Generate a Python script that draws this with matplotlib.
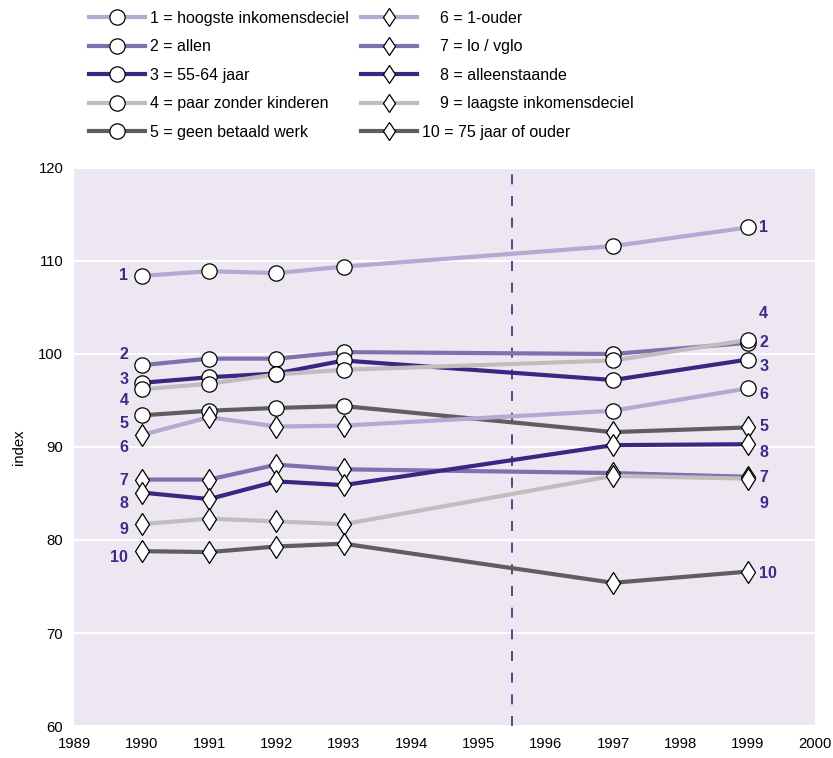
import matplotlib.pyplot as plt
from matplotlib.lines import Line2D

plt.rcParams['font.family'] = ['Liberation Sans', 'DejaVu Sans']

years = [1990, 1991, 1992, 1993, 1997, 1999]

names = ['1 = hoogste inkomensdeciel', '2 = allen', '3 = 55-64 jaar',
         '4 = paar zonder kinderen', '5 = geen betaald werk',
         '    6 = 1-ouder', '    7 = lo / vglo', '    8 = alleenstaande',
         '    9 = laagste inkomensdeciel', '10 = 75 jaar of ouder']

s1 = [108.4, 108.9, 108.7, 109.4, 111.6, 113.6]
s2 = [98.8, 99.5, 99.5, 100.2, 100.0, 101.2]
s3 = [96.9, 97.5, 97.9, 99.3, 97.2, 99.4]
s4 = [96.2, 96.8, 97.8, 98.3, 99.3, 101.5]
s5 = [93.4, 93.9, 94.2, 94.4, 91.6, 92.1]
s6 = [91.3, 93.2, 92.2, 92.3, 93.9, 96.3]
s7 = [86.5, 86.5, 88.1, 87.6, 87.2, 86.8]
s8 = [85.1, 84.4, 86.3, 85.9, 90.2, 90.3]
s9 = [81.7, 82.3, 82.0, 81.7, 86.9, 86.6]
s10 = [78.8, 78.7, 79.3, 79.6, 75.4, 76.6]
series = [s1, s2, s3, s4, s5, s6, s7, s8, s9, s10]

# marker shape per point (the chart swaps 5 and 6 after 1995)
shapes = [['o'] * 6, ['o'] * 6, ['o'] * 6, ['o'] * 6,
          ['o', 'o', 'o', 'o', 'd', 'd'],
          ['d', 'd', 'd', 'd', 'o', 'o'],
          ['d'] * 6, ['d'] * 6, ['d'] * 6, ['d'] * 6]

tags = ['1', '2', '3', '4', '5', '6', '7', '8', '9', '10']
left_tag_y = [108.4, 99.9, 97.3, 95.0, 92.5, 89.9, 86.4, 83.9, 81.1, 78.1]
right_tag_y = [113.6, 101.2, 98.7, 104.3, 92.2, 95.6, 86.7, 89.4, 83.9, 76.4]

colors = ['#b4a9d2', '#8070b0', '#3b2683', '#bebebe', '#5e5e5e',
          '#b4a9d2', '#8070b0', '#3b2683', '#bebebe', '#5e5e5e']
tag_color = '#3d2b87'

fig = plt.figure(figsize=(8.33, 7.58), dpi=100)
ax = fig.add_axes([0.0894, 0.0422, 0.889, 0.7362])
ax.set_facecolor('#ece7f1')
for sp in ax.spines.values():
    sp.set_visible(False)

ax.set_xlim(1989, 2000)
ax.set_ylim(60, 120)
ax.set_xticks(range(1989, 2001))
ax.set_yticks(range(60, 121, 10))
ax.tick_params(length=0, labelsize=10.7, pad=8)
ax.grid(axis='y', color='white', lw=1.5)
ax.set_axisbelow(True)
ax.set_ylabel('index', fontsize=10.7, labelpad=9)

ax.axvline(1995.5, color='#3b2683', lw=1.2, ls=(0, (6, 7)), zorder=1)

for i, vals in enumerate(series):
    ax.plot(years, vals, color=colors[i], lw=3, zorder=2 + i * 0.1,
            solid_capstyle='butt')
    for m in ['o', 'd']:
        xs = [x for x, s in zip(years, shapes[i]) if s == m]
        ys = [y for y, s in zip(vals, shapes[i]) if s == m]
        if xs:
            ax.plot(xs, ys, ls='none', marker=m,
                    ms=11 if m == 'o' else 11.2,
                    mfc='white', mec='black', mew=0.9, zorder=3 + i * 0.1)
    ax.text(1989.8, left_tag_y[i], tags[i], ha='right', va='center',
            fontsize=11.5, fontweight='bold', color=tag_color)
    ax.text(1999.17, right_tag_y[i], tags[i], ha='left', va='center',
            fontsize=11.5, fontweight='bold', color=tag_color)

handles = []
for i in range(10):
    m = 'o' if i < 5 else 'd'
    handles.append(Line2D([], [], color=colors[i], lw=3, marker=m,
                          ms=11 if m == 'o' else 9.5, mfc='white',
                          mec='black', mew=0.9))
fig.legend(handles, names, ncol=2, frameon=False, loc='upper left',
           bbox_to_anchor=(89 / 833, 1 - 11 / 758), borderpad=0,
           borderaxespad=0, fontsize=11.5, handlelength=3.5,
           handletextpad=0.3, columnspacing=0.8, labelspacing=0.84)

fig.savefig('out.png', dpi=100)
